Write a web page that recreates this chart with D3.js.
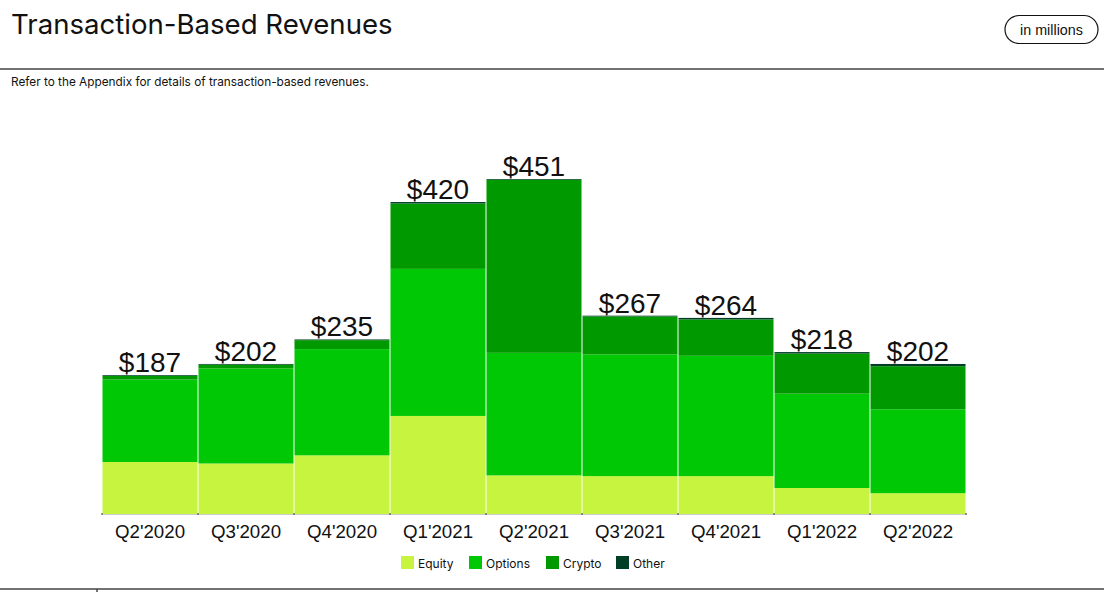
<!DOCTYPE html>
<html>
<head>
<meta charset="utf-8">
<script src="https://cdn.jsdelivr.net/npm/d3@7"></script>
<style>
  body { margin: 0; background: #fff; }
  svg { display: block; }
</style>
</head>
<body>
<svg id="chart" width="1104" height="592"></svg>
<script>
const categories = ["Q2'2020","Q3'2020","Q4'2020","Q1'2021","Q2'2021","Q3'2021","Q4'2021","Q1'2022","Q2'2022"];
const seriesNames = ["Equity","Options","Crypto","Other"];
const equity  = [70, 68, 79, 132, 52, 51, 51, 35, 28];
const options = [111, 128, 143, 198, 165, 164, 162, 127, 113];
const crypto  = [5, 5, 12, 88, 233, 51, 49, 54, 58];
const other   = [1, 1, 1, 2, 1, 1, 2, 2, 3];
const totals  = [187, 202, 235, 420, 451, 267, 264, 218, 202];
const colors  = ["#C6F43F", "#00C805", "#009A00", "#003F26"];

const rows = categories.map((c, i) => ({
  cat: c, Equity: equity[i], Options: options[i], Crypto: crypto[i], Other: other[i], total: totals[i]
}));

const svg = d3.select("#chart");

// Header
svg.append("text").attr("x", 11).attr("y", 34)
  .attr("font-family", "Inter, sans-serif").attr("font-size", 27.6)
  .attr("fill", "#111").text("Transaction-Based Revenues");

svg.append("rect").attr("x", 1005).attr("y", 15.5).attr("width", 93).attr("height", 28)
  .attr("rx", 14).attr("fill", "#fff").attr("stroke", "#111").attr("stroke-width", 1.2);
svg.append("text").attr("x", 1051.5).attr("y", 34.5)
  .attr("text-anchor", "middle").attr("font-family", "Liberation Sans, Arial, sans-serif")
  .attr("font-size", 14.3).attr("fill", "#111").text("in millions");

svg.append("line").attr("x1", 0).attr("x2", 1104).attr("y1", 69).attr("y2", 69)
  .attr("stroke", "#444").attr("stroke-width", 1.5);

svg.append("text").attr("x", 11).attr("y", 86)
  .attr("font-family", "Inter, sans-serif").attr("font-size", 11.8)
  .attr("fill", "#111").text("Refer to the Appendix for details of transaction-based revenues.");

// Scales
const x = d3.scaleBand().domain(categories).range([102, 966]).padding(0);
const y = d3.scaleLinear().domain([0, 451]).range([514, 179]);
const color = d3.scaleOrdinal().domain(seriesNames).range(colors);

const stack = d3.stack().keys(seriesNames)(rows);

svg.append("g").selectAll("g").data(stack).join("g")
  .attr("fill", d => color(d.key))
  .selectAll("rect").data(d => d).join("rect")
  .attr("x", d => x(d.data.cat) + 0.5)
  .attr("width", x.bandwidth() - 1)
  .attr("y", d => y(d[1]))
  .attr("height", d => y(d[0]) - y(d[1]));

// Axis
const axis = svg.append("g").attr("transform", "translate(0,514)")
  .call(d3.axisBottom(x).tickSize(0).tickPadding(11));
axis.select(".domain").attr("stroke", "#ccc").attr("stroke-width", 1.2);
axis.selectAll("text").attr("font-family", "Liberation Sans, Arial, sans-serif")
  .attr("font-size", 18.7).attr("fill", "#111").attr("dy", "0.71em");

// small tick marks at band boundaries
svg.append("g").selectAll("line").data(categories.concat(["end"])).join("line")
  .attr("x1", (d, i) => i < categories.length ? x(d) : x(categories[categories.length - 1]) + x.bandwidth())
  .attr("x2", (d, i) => i < categories.length ? x(d) : x(categories[categories.length - 1]) + x.bandwidth())
  .attr("y1", 513).attr("y2", 515).attr("stroke", "#333").attr("stroke-width", 1);

// Value labels
svg.append("g").selectAll("text").data(rows).join("text")
  .attr("x", d => x(d.cat) + x.bandwidth() / 2)
  .attr("y", d => y(d.total) - 3)
  .attr("text-anchor", "middle")
  .attr("font-family", "Liberation Sans, Arial, sans-serif")
  .attr("font-size", 28).attr("fill", "#111")
  .text(d => "$" + d.total);

// Legend
const legendX = [401, 469, 546, 616];
const lg = svg.append("g").selectAll("g").data(seriesNames).join("g")
  .attr("transform", (d, i) => `translate(${legendX[i]},556)`);
lg.append("rect").attr("width", 13).attr("height", 13).attr("fill", d => color(d));
lg.append("text").attr("x", 17).attr("y", 11.5)
  .attr("font-family", "Inter, sans-serif").attr("font-size", 12)
  .attr("fill", "#111").text(d => d);

// Footer line
svg.append("line").attr("x1", 0).attr("x2", 1104).attr("y1", 589).attr("y2", 589)
  .attr("stroke", "#444").attr("stroke-width", 1.5);
svg.append("line").attr("x1", 97).attr("x2", 97).attr("y1", 589).attr("y2", 592)
  .attr("stroke", "#444").attr("stroke-width", 1.5);
</script>
</body>
</html>
